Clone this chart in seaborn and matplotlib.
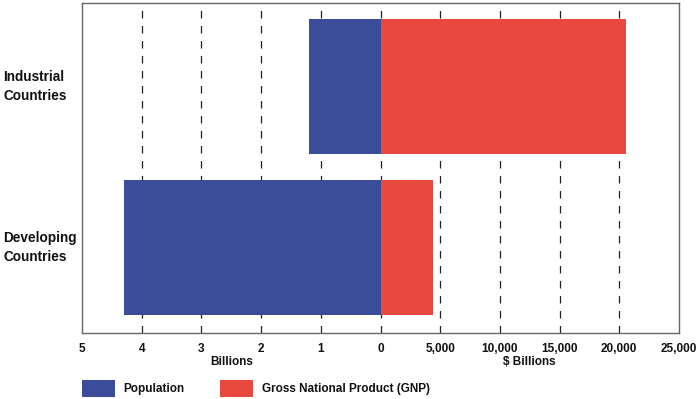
import matplotlib
matplotlib.use("Agg")
import matplotlib.pyplot as plt
import matplotlib.transforms as mtransforms
from matplotlib.patches import Rectangle
import seaborn as sns
import pandas as pd

# ---- data ----
categories = ["Industrial\nCountries", "Developing\nCountries"]
population_billions = [1.2, 4.3]
gnp_billions_usd = [20600, 4400]
gnp_per_unit = 5000  # $ billions that occupy the same width as 1 billion people
tick_positions = [-5, -4, -3, -2, -1, 0, 1, 2, 3, 4, 5]
tick_labels = ["5", "4", "3", "2", "1", "0", "5,000", "10,000", "15,000", "20,000", "25,000"]
legend_labels = ["Population", "Gross National Product (GNP)"]
axis_titles = ["Billions", "$ Billions"]

BLUE = "#3b4c9b"
RED = "#e8493f"

sns.set_theme(style="white")
plt.rcParams["font.family"] = ["Liberation Sans", "DejaVu Sans"]
plt.rcParams["font.weight"] = "bold"

df = pd.DataFrame({
    "category": categories,
    "pop_left": [-p for p in population_billions],
    "gnp_right": [g / gnp_per_unit for g in gnp_billions_usd],
})

fig = plt.figure(figsize=(7.0, 3.99), dpi=100)
ax = fig.add_axes([82 / 700, 1 - 333 / 399, (679 - 82) / 700, 330 / 399])

sns.barplot(data=df, y="category", x="pop_left", orient="h", color=BLUE,
            width=0.84, saturation=1, ax=ax, zorder=3, linewidth=0, edgecolor="none")
sns.barplot(data=df, y="category", x="gnp_right", orient="h", color=RED,
            width=0.84, saturation=1, ax=ax, zorder=3, linewidth=0, edgecolor="none")

ax.set_xlim(-5, 5)
ax.set_ylim(1.531, -0.519)

# dashed vertical gridlines
for t in tick_positions[1:-1]:
    ax.axvline(t, color="#222222", lw=0.9, ls=(0, (6, 6)), zorder=1)

ax.set_xticks(tick_positions)
ax.set_xticklabels(tick_labels, fontsize=8.5, fontweight="bold", color="#111111")
ax.tick_params(axis="x", length=0, pad=7)
ax.set_yticks([])
ax.set_xlabel("")
ax.set_ylabel("")
for s in ax.spines.values():
    s.set_color("#666666")
    s.set_linewidth(1.0)

# category labels at left
trans_cat = mtransforms.blended_transform_factory(fig.transFigure, ax.transData)
for i, c in enumerate(categories):
    ax.text(3 / 700, i, c, transform=trans_cat, ha="left", va="center",
            fontsize=9.8, fontweight="bold", linespacing=1.45, color="#111111")

# axis titles under the ticks
trans_t = mtransforms.blended_transform_factory(ax.transData, fig.transFigure)
ax.text(-2.5, 1 - 362 / 399, axis_titles[0], transform=trans_t, ha="center",
        va="center", fontsize=8.5, fontweight="bold", color="#111111")
ax.text(2.5, 1 - 362 / 399, axis_titles[1], transform=trans_t, ha="center",
        va="center", fontsize=8.5, fontweight="bold", color="#111111")

# legend
for (x0, x1, tx), col, lab in zip([(82, 115, 123), (220, 253, 262)], [BLUE, RED], legend_labels):
    fig.patches.append(Rectangle((x0 / 700, 1 - 397 / 399), (x1 - x0) / 700, 17 / 399,
                                 transform=fig.transFigure, facecolor=col, edgecolor="none"))
    fig.text(tx / 700, 1 - 389 / 399, lab, ha="left", va="center",
             fontsize=8.5, fontweight="bold", color="#111111")

fig.savefig("out.png", dpi=100)
